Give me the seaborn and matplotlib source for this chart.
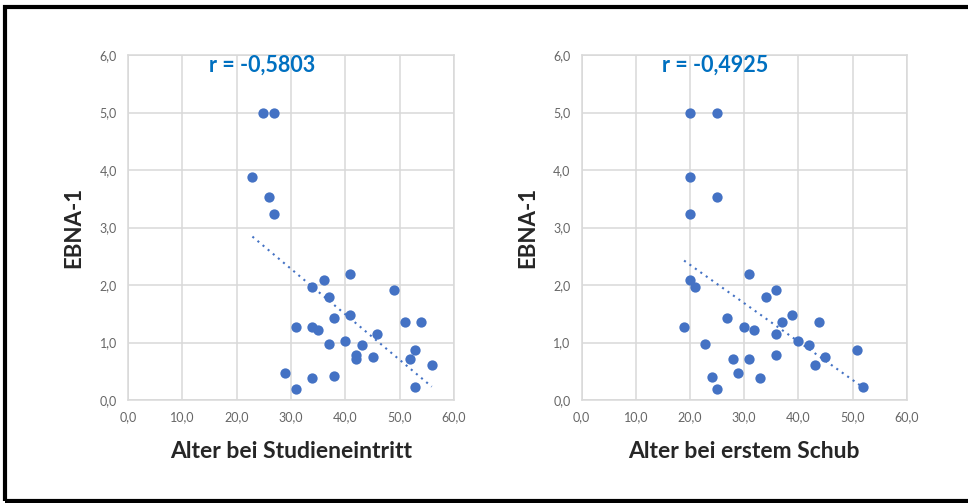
import numpy as np
import pandas as pd
import seaborn as sns
import matplotlib.pyplot as plt
from matplotlib.patches import Rectangle

# EBNA-1 values (same patients in both panels)
ebna = [5.0, 5.0, 3.87, 3.53, 3.23, 2.20, 2.09, 1.96, 1.79, 1.91, 1.43, 1.47, 1.27, 1.27, 1.21,
        1.36, 1.36, 1.14, 0.97, 1.03, 0.96, 0.78, 0.71, 0.75, 0.875, 0.71, 0.61, 0.475, 0.39,
        0.41, 0.19, 0.23]
alter_studie = [24.9, 26.9, 22.9, 26.0, 26.9, 40.9, 36.0, 33.9, 37.0, 49.0, 38.0, 40.9, 31.0, 33.9, 35.0,
                50.9, 54.0, 45.9, 37.0, 40.0, 43.0, 41.9, 41.9, 45.0, 52.9, 51.9, 55.9, 28.9, 33.9,
                38.0, 31.0, 52.9]
ebna_schub = [5.0, 5.0, 3.87, 3.53, 3.23, 2.20, 2.09, 1.96, 1.79, 1.91, 1.43, 1.47, 1.27, 1.27, 1.21,
              1.36, 1.36, 1.14, 0.97, 1.03, 0.96, 0.78, 0.71, 0.71, 0.75, 0.875, 0.61, 0.475, 0.39,
              0.40, 0.19, 0.23]
alter_schub = [20.0, 24.9, 20.0, 24.9, 20.0, 30.9, 20.0, 20.9, 34.0, 35.9, 26.9, 38.9, 18.9, 29.9, 31.9,
               36.9, 43.9, 35.9, 22.8, 40.0, 41.9, 35.9, 30.9, 27.9, 44.9, 50.9, 43.0, 28.9, 32.9,
               24.0, 24.9, 52.0]

xticks = [0, 10, 20, 30, 40, 50, 60]
yticks = [0, 1, 2, 3, 4, 5, 6]
xlabels = ['0,0', '10,0', '20,0', '30,0', '40,0', '50,0', '60,0']
ylabels = ['0,0', '1,0', '2,0', '3,0', '4,0', '5,0', '6,0']
r_texts = ['r = -0,5803', 'r = -0,4925']
x_titles = ['Alter bei Studieneintritt', 'Alter bei erstem Schub']

df1 = pd.DataFrame({'alter': alter_studie, 'ebna': ebna})
df2 = pd.DataFrame({'alter': alter_schub, 'ebna': ebna_schub})

sns.set_style('white')
plt.rcParams.update({'font.family': ['Lato', 'DejaVu Sans']})

fig = plt.figure(figsize=(9.68, 5.03), dpi=100)
ax1 = fig.add_axes([128/968, 103/503, 326/968, 345/503])
ax2 = fig.add_axes([581.7/968, 103/503, 325/968, 345/503])

blue = '#4472C4'
for ax, df, rt, xt in zip([ax1, ax2], [df1, df2], r_texts, x_titles):
    ax.set_axisbelow(True)
    sns.regplot(data=df, x='alter', y='ebna', ax=ax, scatter=False, ci=None,
                line_kws={'color': blue, 'linestyle': (0, (1, 2.2)), 'linewidth': 1.5})
    sns.scatterplot(data=df, x='alter', y='ebna', ax=ax, color=blue, s=55,
                    edgecolor=blue, linewidth=0, zorder=3)
    ax.set_xlim(0, 60)
    ax.set_ylim(0, 6)
    ax.set_xticks(xticks)
    ax.set_yticks(yticks)
    ax.set_xticklabels(xlabels)
    ax.set_yticklabels(ylabels)
    ax.tick_params(length=0, labelsize=9, labelcolor='#666666', pad=8)
    ax.grid(True, color='#d9d9d9', linewidth=1.1)
    for s in ax.spines.values():
        s.set_color('#d9d9d9')
        s.set_linewidth(1.1)
    ax.set_xlabel(xt, fontsize=16.5, fontweight='bold', labelpad=13)
    ax.set_ylabel('EBNA-1', fontsize=16, fontweight='bold', labelpad=11)
    ax.text(0.41, 0.97, rt, transform=ax.transAxes, ha='center', va='center',
            fontsize=15.5, fontweight='bold', color='#0070C0')

# black frame
fig.patches.append(Rectangle((5/968, 2/503), 1.2, 494/503, transform=fig.transFigure,
                             fill=False, edgecolor='black', linewidth=3))

fig.savefig('out.png', dpi=100)
